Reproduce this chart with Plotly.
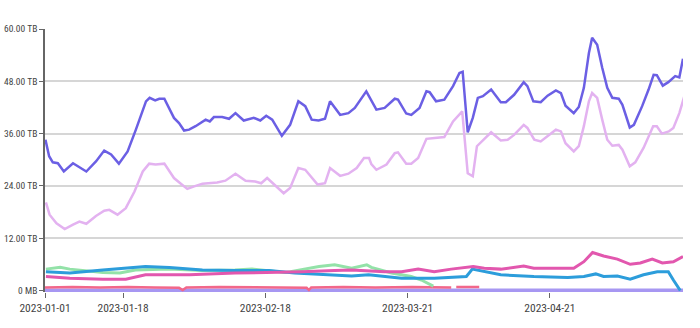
import pandas as pd
import plotly.graph_objects as go

START = pd.Timestamp("2023-01-01")

# days since 2023-01-01, values in TB
top_days = [0.1, 0.9, 1.7, 2.8, 4.1, 6.1, 9.0, 11.1, 12.9, 14.4, 16.1, 18.0, 19.8, 22.0, 22.8, 24.0, 24.9, 26.0,
            28.1, 29.2, 30.3, 31.4, 32.8, 35.0, 35.9, 36.8, 38.6, 40.1, 41.5, 43.3, 45.5, 46.9, 48.2, 49.5, 51.6,
            53.4, 55.2, 56.7, 58.1, 59.6, 61.0, 62.1, 64.3, 66.1, 67.5, 70.0, 72.2, 74.0, 76.2, 76.9, 78.7, 79.8,
            81.6, 83.1, 83.8, 85.2, 87.0, 88.9, 90.3, 91.0, 92.1, 93.2, 94.3, 95.4, 97.2, 99.3, 100.4, 102.2,
            104.3, 105.1, 106.4, 108.0, 109.5, 111.3, 112.4, 113.4, 115.2, 116.3, 117.4, 118.5, 119.2, 120.3,
            121.4, 122.5, 123.6, 125.0, 125.8, 127.4, 128.3, 130.1, 131.5, 132.6, 133.3, 134.6, 135.8, 137.3,
            138.2, 139.0]
top_vals = [34.6, 30.8, 29.4, 29.2, 27.3, 29.2, 27.3, 29.6, 32.1, 31.2, 29.1, 31.9, 36.9, 43.4, 44.2, 43.6, 44.0, 44.0,
            39.6, 38.4, 36.7, 36.9, 37.7, 39.2, 38.8, 39.8, 39.8, 39.4, 40.7, 39.0, 39.6, 39.0, 40.1, 39.2, 35.5,
            38.0, 43.4, 42.3, 39.2, 39.0, 39.4, 43.4, 40.3, 40.7, 41.9, 45.7, 41.5, 41.9, 44.0, 43.8, 40.6, 40.3,
            41.9, 45.7, 45.5, 43.4, 43.8, 46.9, 49.9, 50.2, 36.3, 39.6, 44.2, 44.6, 46.1, 43.2, 43.2, 44.9,
            47.8, 46.9, 43.4, 43.2, 44.7, 45.9, 45.3, 42.4, 40.7, 42.1, 46.5, 54.5, 58.0, 56.4,
            51.1, 46.5, 44.2, 44.0, 42.6, 37.4, 38.0, 42.3, 46.1, 49.5, 49.4, 47.0, 47.8, 49.2,
            48.9, 53.2]

lilac_days = [0.2, 1.0, 2.5, 4.3, 6.1, 7.5, 9.0, 11.1, 12.9, 14.0, 15.8, 17.6, 19.5, 21.3, 22.7, 24.1, 26.0, 28.1,
              29.6, 31.0, 32.5, 34.3, 37.5, 39.3, 41.5, 43.7, 45.8, 47.1, 48.4, 49.5, 52.0, 53.4, 55.2, 56.7, 59.4,
              61.0, 62.1, 64.3, 66.1, 67.9, 69.5, 70.6, 71.1, 72.2, 74.4, 76.2, 76.9, 78.7, 79.8, 81.3, 83.1, 84.9,
              87.0, 88.9, 90.9, 92.1, 93.2, 94.1, 95.7, 97.2, 99.3, 100.8, 102.2, 104.3, 105.1, 106.6, 108.0,
              109.5, 111.3, 112.4, 113.4, 115.2, 116.3, 117.4, 118.5, 119.2, 120.3, 121.4, 122.5, 123.6, 125.0,
              125.8, 127.4, 128.6, 130.4, 132.5, 133.3, 134.4, 135.9, 136.9, 138.2, 139.3]
lilac_vals = [20.2, 17.4, 15.4, 14.1, 15.1, 15.8, 15.3, 17.1, 18.3, 18.5, 17.4, 18.9, 22.7, 27.3, 29.1, 28.9, 29.1, 25.8,
              24.5, 23.3, 23.9, 24.5, 24.8, 25.2, 26.8, 25.2, 25.0, 24.6, 25.8, 24.8, 22.3, 23.5, 28.1, 27.7, 24.3,
              24.6, 28.1, 26.3, 26.8, 28.1, 30.4, 30.4, 29.0, 27.7, 28.9, 31.5, 31.7, 29.1, 29.1, 30.4, 34.8, 35.0,
              35.2, 38.8, 41.1, 26.9, 26.2, 33.1, 34.8, 36.3, 34.4, 34.6, 35.7, 38.0, 37.3, 34.6, 34.2,
              35.5, 36.9, 36.5, 33.8, 31.9, 33.1, 37.7, 43.4, 45.3, 44.2, 39.2, 34.6, 33.2, 33.4,
              32.3, 28.5, 29.4, 32.7, 37.7, 37.7, 36.0, 36.5, 37.3, 40.7, 44.6]

magenta_days = [0.2, 5.4, 12.6, 17.6, 21.9, 31.5, 41.4, 48.8, 56.0, 63.1, 66.8, 74.0, 77.7, 81.3, 84.8, 88.5, 93.3,
                95.7, 99.3, 104.3, 106.5, 115.2, 117.4, 119.3, 121.7, 124.7, 127.5, 129.7, 132.3, 134.5, 136.9, 139.0]
magenta_vals = [3.2, 2.8, 2.6, 2.6, 3.6, 3.6, 4.0, 4.1, 4.3, 4.6, 4.7, 4.3, 4.3, 4.9, 4.3, 4.9, 5.5,
                5.1, 4.9, 5.6, 5.1, 5.1, 6.6, 8.7, 7.9, 7.2, 6.0, 6.3, 7.2, 6.3, 6.6, 7.8]

blue_days = [0.2, 5.4, 12.6, 21.9, 27.1, 34.3, 41.4, 48.8, 54.4, 63.1, 66.8, 70.5, 74.0, 77.7, 84.8, 91.8, 93.1,
             95.7, 99.3, 106.5, 113.9, 117.4, 120.0, 121.7, 124.7, 127.5, 130.4, 133.4, 135.8, 136.9, 138.4]
blue_vals = [4.3, 4.0, 4.7, 5.5, 5.3, 4.7, 4.6, 4.6, 4.0, 3.6, 3.3, 3.6, 3.2, 2.8, 2.8, 3.2, 4.9,
             4.3, 3.6, 3.2, 3.0, 3.2, 3.8, 3.2, 3.3, 2.6, 3.6, 4.3, 4.3, 2.4, 0.0]

green_days = [0.2, 3.3, 5.4, 12.6, 16.3, 19.7, 27.1, 34.3, 41.4, 45.1, 52.3, 59.7, 63.1, 66.8, 70.1, 71.1, 75.5,
              79.8, 82.0, 84.6]
green_vals = [4.9, 5.3, 4.9, 4.1, 4.0, 4.7, 4.9, 4.6, 4.7, 4.9, 4.1, 5.5, 5.9, 5.1, 5.9, 5.3, 4.0,
              3.2, 2.4, 1.0]

red_days = [0, 6, 12, 18, 24, 29.2, 30, 30.8, 38, 45, 52, 57, 57.5, 58, 65, 72, 80, 88.5, 89, 89.6, 94.6]
red_vals = [0.7, 0.8, 0.7, 0.8, 0.7, 0.6, 0.1, 0.7, 0.8, 0.7, 0.7, 0.6, 0.1, 0.7, 0.8, 0.7, 0.8, 0.7, None, 0.8, 0.8]

purple_days = [0, 139]
purple_vals = [0.0, 0.0]

tick_dates = ["2023-01-01", "2023-01-18", "2023-02-18", "2023-03-21", "2023-04-21"]
last_tick = "2023-05-22"
y_tickvals = [0, 12, 24, 36, 48, 60]
y_ticktext = ["0 MB", "12.00 TB", "24.00 TB", "36.00 TB", "48.00 TB", "60.00 TB"]


def to_dates(days):
    return [START + pd.Timedelta(days=d) for d in days]


series = [
    (purple_days, purple_vals, "#a797f2", 4),
    (red_days, red_vals, "#f2678a", 2.5),
    (green_days, green_vals, "#93e2a8", 3),
    (blue_days, blue_vals, "#2c9ddb", 3),
    (magenta_days, magenta_vals, "#e257ae", 3),
    (lilac_days, lilac_vals, "#e3b2f0", 2.5),
    (top_days, top_vals, "#6b5fe4", 2.5),
]

fig = go.Figure()
for d, v, c, w in series:
    fig.add_trace(go.Scatter(x=to_dates(d), y=v, mode="lines", line=dict(color=c, width=w),
                             connectgaps=False, showlegend=False, hoverinfo="skip"))

FONT = "Roboto Condensed, DejaVu Sans Condensed, sans-serif"

fig.update_layout(
    width=700, height=328,
    margin=dict(l=45, r=17, t=29, b=36),
    paper_bgcolor="white", plot_bgcolor="white",
    font=dict(family=FONT, size=11, color="#444"),
    xaxis=dict(range=["2023-01-01", "2023-05-20"], tickvals=tick_dates, ticktext=tick_dates,
               showgrid=False, zeroline=False, showline=False, ticks="outside", ticklen=5,
               tickcolor="#666", automargin=False,
               tickfont=dict(family=FONT, size=11.5, color="#444")),
    yaxis=dict(range=[-0.35, 60], tickvals=y_tickvals, ticktext=y_ticktext, showgrid=True,
               gridcolor="#d6d6d6", gridwidth=1.5, zeroline=False, showline=True, linecolor="#666",
               linewidth=1.5, ticks="outside", ticklen=4, tickcolor="#666", automargin=False,
               tickfont=dict(family=FONT, size=9.5, color="#444")),
    annotations=[dict(x=last_tick, xref="x", y=0, yref="paper", yanchor="top", yshift=-8,
                      text=last_tick, showarrow=False, font=dict(family=FONT, size=11.5, color="#444"))],
)

fig.write_html("out.html")
